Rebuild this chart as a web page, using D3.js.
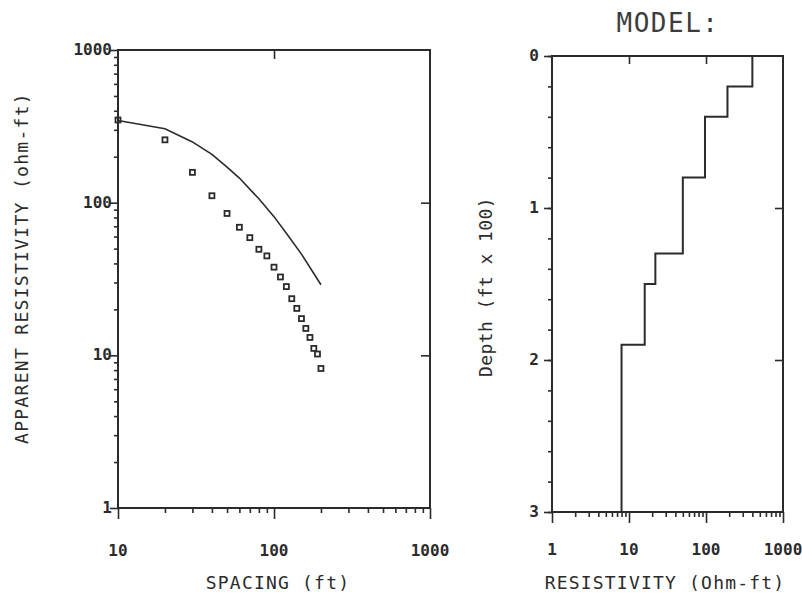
<!DOCTYPE html>
<html>
<head>
<meta charset="utf-8">
<script src="https://cdn.jsdelivr.net/npm/d3@7"></script>
<style>
  body { margin: 0; background: #fff; }
  text { font-family: "DejaVu Sans Mono", monospace; fill: #2b2b2b; }
</style>
</head>
<body>
<div id="chart"></div>
<script>
// field sounding (squares)
const spacing = [10, 20, 30, 40, 50, 60, 70, 80, 90, 100, 110, 120, 130, 140, 150, 160, 170, 180, 190, 200];
const apparentRes = [348, 258, 158, 111, 85, 69, 59, 49.5, 44.8, 37.8, 32.6, 28.2, 23.5, 20.3, 17.4, 15, 13.1, 11.1, 10.2, 8.2];

// computed model curve
const modelSpacing = [10, 20, 30, 40, 50, 60, 80, 100, 120, 150, 200];
const modelRes = [345, 305, 250, 207, 171, 145, 106, 81, 63, 46, 29];

// layered model (depth in ft x 100)
const layerTop = [0, 0.2, 0.4, 0.8, 1.3, 1.5, 1.9];
const layerRes = [400, 190, 97, 50, 22, 16, 8];
const maxDepth = 3;

// tick labels
const resTicks = [1, 10, 100, 1000];
const spacingTicks = [10, 100, 1000];
const depthTicks = [0, 1, 2, 3];
const modelResTicks = [1, 10, 100, 1000];

const W = 802, H = 599;
const ink = "#2b2b2b";

const svg = d3.select("#chart")
  .append("svg")
    .attr("width", W)
    .attr("height", H);

// --- scales ---
const x = d3.scaleLog().domain([10, 1000]).range([118, 430]);
const y = d3.scaleLog().domain([1, 1000]).range([508, 50]);
const x2 = d3.scaleLog().domain([1, 1000]).range([552, 783]);
const y2 = d3.scaleLinear().domain([0, maxDepth]).range([56, 512]);

// minor log ticks 2..9 in every decade
function minorLog(lo, hi) {
  const out = [];
  for (let d = lo; d < hi; d *= 10)
    for (let k = 2; k <= 9; k++) out.push(d * k);
  return out;
}

function tickAxis(axis, tx, ty) {
  const g = svg.append("g")
    .attr("transform", `translate(${tx},${ty})`)
    .call(axis.tickFormat(""));
  g.select(".domain").remove();
  g.selectAll(".tick line").attr("stroke", ink).attr("stroke-width", 1.6);
  return g;
}

function frame(xs, ys) {
  const [x0, x1] = xs.range(), [y0, y1] = ys.range();
  svg.append("rect")
    .attr("x", Math.min(x0, x1)).attr("y", Math.min(y0, y1))
    .attr("width", Math.abs(x1 - x0)).attr("height", Math.abs(y1 - y0))
    .attr("fill", "none").attr("stroke", ink).attr("stroke-width", 2);
}

// ================= left panel =================
frame(x, y);
tickAxis(d3.axisLeft(y).tickValues(resTicks).tickSize(8), x(10), 0);
tickAxis(d3.axisLeft(y).tickValues(minorLog(1, 1000)).tickSize(4), x(10), 0);
tickAxis(d3.axisBottom(x).tickValues(spacingTicks).tickSize(11), 0, y(1));
tickAxis(d3.axisBottom(x).tickValues(minorLog(10, 1000)).tickSize(5), 0, y(1));
tickAxis(d3.axisLeft(y).tickValues([10, 100]).tickSize(9), x(1000), 0);
tickAxis(d3.axisBottom(x).tickValues([100]).tickSize(9), 0, y(1000));

svg.append("g").selectAll("text")
  .data(resTicks)
  .join("text")
    .attr("x", x(10) - 6)
    .attr("y", d => y(d) + 5)
    .attr("text-anchor", "end")
    .attr("font-size", "16px")
    .attr("font-weight", "bold")
    .text(d => d);

svg.append("g").selectAll("text")
  .data(spacingTicks)
  .join("text")
    .attr("x", d => x(d))
    .attr("y", 556)
    .attr("text-anchor", "middle")
    .attr("font-size", "16px")
    .attr("font-weight", "bold")
    .text(d => d);

// model curve
svg.append("path")
  .datum(d3.zip(modelSpacing, modelRes))
  .attr("fill", "none")
  .attr("stroke", ink)
  .attr("stroke-width", 1.6)
  .attr("d", d3.line().x(d => x(d[0])).y(d => y(d[1])));

// field points
svg.append("g").selectAll("rect")
  .data(d3.zip(spacing, apparentRes))
  .join("rect")
    .attr("x", d => x(d[0]) - 2.5)
    .attr("y", d => y(d[1]) - 2.5)
    .attr("width", 5)
    .attr("height", 5)
    .attr("fill", "none")
    .attr("stroke", ink)
    .attr("stroke-width", 1.8);

svg.append("text")
  .attr("x", 278)
  .attr("y", 589)
  .attr("text-anchor", "middle")
  .attr("font-size", "18px")
  .attr("letter-spacing", "1.2px")
  .text("SPACING (ft)");

svg.append("text")
  .attr("transform", "translate(28,268) rotate(-90)")
  .attr("text-anchor", "middle")
  .attr("font-size", "18px")
  .attr("letter-spacing", "1.3px")
  .text("APPARENT RESISTIVITY (ohm-ft)");

// ================= right panel =================
frame(x2, y2);
tickAxis(d3.axisLeft(y2).tickValues(depthTicks).tickSize(8), x2(1), 0);
tickAxis(d3.axisLeft(y2).tickValues(d3.range(0, 3.01, 0.2)).tickSize(4), x2(1), 0);
tickAxis(d3.axisBottom(x2).tickValues(modelResTicks).tickSize(11), 0, y2(maxDepth));
tickAxis(d3.axisBottom(x2).tickValues(minorLog(1, 1000)).tickSize(5), 0, y2(maxDepth));
tickAxis(d3.axisLeft(y2).tickValues([1, 2]).tickSize(8), x2(1000), 0);
tickAxis(d3.axisBottom(x2).tickValues([10, 100]).tickSize(8), 0, y2(0));

svg.append("g").selectAll("text")
  .data(depthTicks)
  .join("text")
    .attr("x", 534)
    .attr("y", d => y2(d) + 5)
    .attr("text-anchor", "middle")
    .attr("font-size", "16px")
    .attr("font-weight", "bold")
    .text(d => d);

svg.append("g").selectAll("text")
  .data(modelResTicks)
  .join("text")
    .attr("x", d => x2(d))
    .attr("y", 555)
    .attr("text-anchor", "middle")
    .attr("font-size", "16px")
    .attr("font-weight", "bold")
    .text(d => d);

// step profile
const steps = [];
layerRes.forEach((r, i) => {
  const bottom = i + 1 < layerTop.length ? layerTop[i + 1] : maxDepth;
  steps.push([r, layerTop[i]], [r, bottom]);
});
svg.append("path")
  .datum(steps)
  .attr("fill", "none")
  .attr("stroke", ink)
  .attr("stroke-width", 2)
  .attr("d", d3.line().x(d => x2(d[0])).y(d => y2(d[1])));

svg.append("text")
  .attr("x", 668)
  .attr("y", 32)
  .attr("text-anchor", "middle")
  .attr("font-size", "26px")
  .attr("letter-spacing", "1.5px")
  .style("fill", "#3c3c3c")
  .text("MODEL:");

svg.append("text")
  .attr("x", 665)
  .attr("y", 589)
  .attr("text-anchor", "middle")
  .attr("font-size", "18px")
  .attr("letter-spacing", "1.2px")
  .text("RESISTIVITY (Ohm-ft)");

svg.append("text")
  .attr("transform", "translate(492,287) rotate(-90)")
  .attr("text-anchor", "middle")
  .attr("font-size", "18px")
  .attr("letter-spacing", "0.4px")
  .text("Depth (ft x 100)");
</script>
</body>
</html>
